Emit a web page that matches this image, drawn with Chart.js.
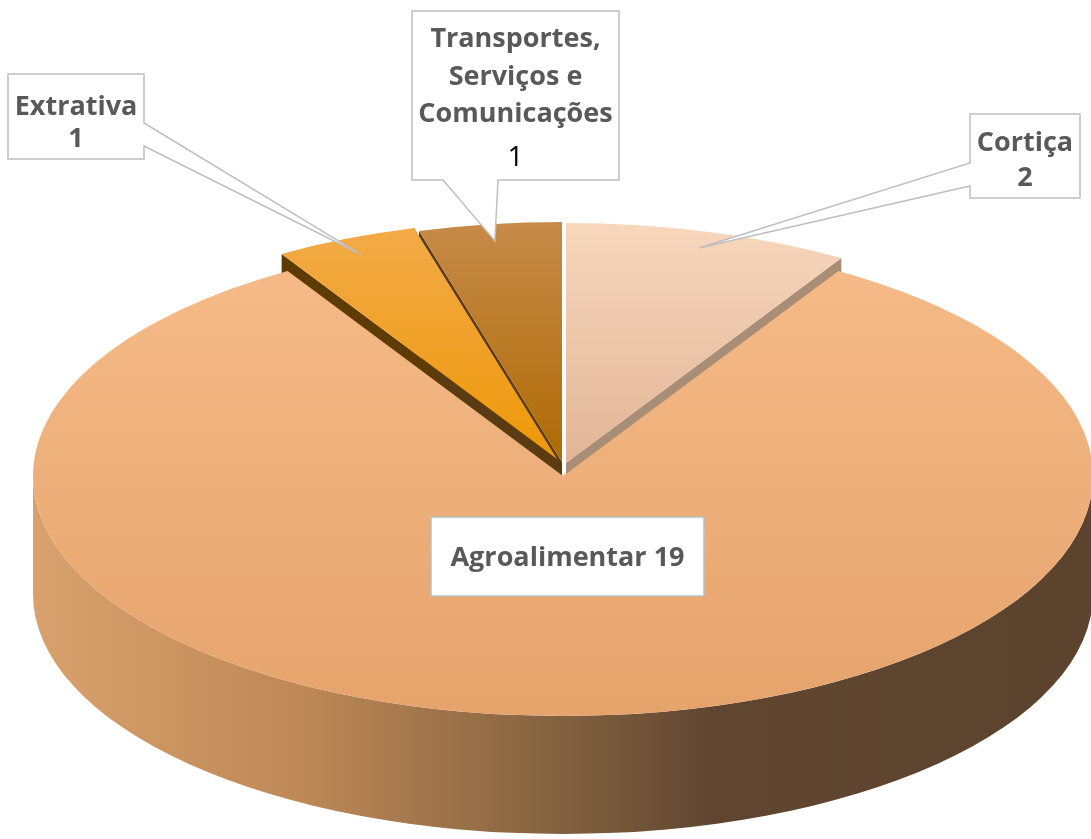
<!DOCTYPE html>
<html>
<head>
<meta charset="utf-8">
<script src="https://cdn.jsdelivr.net/npm/chart.js@4.4.1/dist/chart.umd.min.js"></script>
<style>
html,body{margin:0;padding:0;background:#ffffff;overflow:hidden;}
#wrap{width:1091px;height:839px;position:relative;}
canvas{display:block;}
</style>
</head>
<body>
<div id="wrap"><canvas id="c" width="1091" height="839"></canvas></div>
<script>
// ---- data ----
const categories = ['Cortiça', 'Agroalimentar', 'Extrativa', 'Transportes, Serviços e Comunicações'];
const values = [2, 19, 1, 1];
const labelLines = [['Cortiça'], ['Agroalimentar'], ['Extrativa'], ['Transportes,', 'Serviços e', 'Comunicações']];

// ---- styles ----
const topStops = [
  [[0, '#F8D7BC'], [0.5, '#E2B597'], [1, '#D09B7A']],
  [[0, '#F6BC89'], [1, '#E6A36C']],
  [[0, '#F3AB4A'], [0.5, '#EE9808'], [1, '#E08A00']],
  [[0, '#C68B48'], [0.5, '#B06A04'], [1, '#A05E00']]
];
const wallColors = ['#A88D77', '#8A6A4A', '#5E3B02', '#5A3B12'];
const wallGradients = [
  [[0, '#A3896F'], [1, '#A3896F']],
  [[0, '#D8A16D'], [0.25, '#BF8957'], [0.5, '#82613F'], [0.64, '#604631'], [1, '#5C432D']],
  [[0, '#5E3B02'], [1, '#5E3B02']],
  [[0, '#5A3B12'], [1, '#5A3B12']]
];

function topGradient(c) {
  const chart = c.chart;
  const area = chart.chartArea;
  const stops = topStops[c.dataIndex];
  if (!area) return stops[0][1];
  const cy = (area.top + area.bottom) / 2;
  const r = Math.min(area.right - area.left, area.bottom - area.top) / 2;
  const g = chart.ctx.createLinearGradient(0, cy - r, 0, cy + r);
  stops.forEach(([p, col]) => g.addColorStop(p, col));
  return g;
}

const pie3d = {
  id: 'pie3d',
  beforeDatasetsDraw(chart, args, opts) {
    const ctx = chart.ctx;
    const arcs = chart.getDatasetMeta(0).data;
    if (!arcs.length) return;
    const R = arcs[0].outerRadius, cx0 = arcs[0].x, cy0 = arcs[0].y;
    const sx = opts.rx / R, sy = opts.ry / R;
    const Du = opts.depth / sy;
    const shift = i => opts.explodePx[i] || [0, 0];
    const enter = i => {
      const [dx, dy] = shift(i);
      ctx.save();
      ctx.translate(opts.cx + dx, opts.cy + dy);
      ctx.scale(sx, sy);
      ctx.translate(-cx0, -cy0);
    };
    // radial walls
    arcs.forEach((el, i) => {
      enter(i);
      const X = el.x, Y = el.y;
      ctx.fillStyle = wallColors[i];
      [el.startAngle, el.endAngle].forEach(a => {
        const px = X + R * Math.cos(a), py = Y + R * Math.sin(a);
        ctx.beginPath();
        ctx.moveTo(X, Y); ctx.lineTo(px, py); ctx.lineTo(px, py + Du); ctx.lineTo(X, Y + Du);
        ctx.closePath(); ctx.fill();
      });
      ctx.restore();
    });
    // outer walls (front half only)
    arcs.forEach((el, i) => {
      enter(i);
      const X = el.x, Y = el.y;
      for (let k = -1; k <= 1; k++) {
        const lo = Math.max(el.startAngle, 2 * Math.PI * k);
        const hi = Math.min(el.endAngle, 2 * Math.PI * k + Math.PI);
        if (hi <= lo) continue;
        const g = ctx.createLinearGradient(X - R, 0, X + R, 0);
        wallGradients[i].forEach(([p, col]) => g.addColorStop(p, col));
        ctx.fillStyle = g;
        ctx.beginPath();
        ctx.arc(X, Y, R, lo, hi);
        ctx.arc(X, Y + Du, R, hi, lo, true);
        ctx.closePath();
        ctx.fill();
      }
      ctx.restore();
    });
    // top faces, drawn by the library's arc elements
    arcs.forEach((el, i) => {
      enter(i);
      el.draw(ctx);
      ctx.restore();
    });
    // anchor points in screen space
    chart.$anchors = arcs.map((el, i) => {
      const [dx, dy] = shift(i);
      const h = (el.startAngle + el.endAngle) / 2;
      return [opts.cx + dx + opts.anchorK * opts.rx * Math.cos(h),
              opts.cy + dy + opts.anchorK * opts.ry * Math.sin(h)];
    });
    return false;
  },
  afterDraw(chart, args, opts) {
    const ctx = chart.ctx;
    const anchors = chart.$anchors;
    if (!anchors) return;
    opts.callouts.forEach(co => {
      const [x, y, w, h] = co.box;
      const tip = anchors[co.i];
      ctx.save();
      ctx.beginPath();
      if (co.side === 'right') {
        ctx.moveTo(x, y); ctx.lineTo(x + w, y); ctx.lineTo(x + w, co.base[0]);
        ctx.lineTo(tip[0], tip[1]); ctx.lineTo(x + w, co.base[1]);
        ctx.lineTo(x + w, y + h); ctx.lineTo(x, y + h); ctx.closePath();
      } else if (co.side === 'left') {
        ctx.moveTo(x, y); ctx.lineTo(x + w, y); ctx.lineTo(x + w, y + h); ctx.lineTo(x, y + h);
        ctx.lineTo(x, co.base[1]); ctx.lineTo(tip[0], tip[1]); ctx.lineTo(x, co.base[0]); ctx.closePath();
      } else if (co.side === 'bottom') {
        ctx.moveTo(x, y); ctx.lineTo(x + w, y); ctx.lineTo(x + w, y + h);
        ctx.lineTo(co.base[1], y + h); ctx.lineTo(tip[0], tip[1]); ctx.lineTo(co.base[0], y + h);
        ctx.lineTo(x, y + h); ctx.closePath();
      } else {
        ctx.rect(x, y, w, h);
      }
      ctx.fillStyle = '#FFFFFF';
      ctx.fill();
      ctx.strokeStyle = '#BFBFBF';
      ctx.lineWidth = 1.5;
      ctx.stroke();
      ctx.textAlign = 'center';
      ctx.textBaseline = 'alphabetic';
      const tx = x + w / 2;
      const names = labelLines[co.i];
      const bl = co.baselines;
      ctx.fillStyle = '#595959';
      ctx.font = 'bold 27px "Open Sans", "DejaVu Sans", sans-serif';
      if (co.inline) {
        ctx.fillText(names.join(' ') + ' ' + values[co.i], tx, bl[0]);
      } else {
        names.forEach((t, k) => ctx.fillText(t, tx, bl[k]));
        if (co.plainValue) {
          ctx.fillStyle = '#000000';
          ctx.font = '28px "Open Sans", "DejaVu Sans", sans-serif';
        }
        ctx.fillText(String(values[co.i]), tx, bl[names.length]);
      }
      ctx.restore();
    });
  }
};

new Chart(document.getElementById('c'), {
  type: 'pie',
  data: {
    labels: categories,
    datasets: [{
      data: values,
      backgroundColor: topGradient,
      borderWidth: 0
    }]
  },
  options: {
    responsive: false,
    devicePixelRatio: 1,
    animation: false,
    layout: { padding: 0 },
    plugins: {
      legend: { display: false },
      tooltip: { enabled: false },
      pie3d: {
        cx: 563, cy: 476, rx: 530, ry: 240, depth: 118,
        explodePx: [[3, -13], [0, 0], [-6, -17], [-1, -14]],
        anchorK: 0.93,
        callouts: [
          { i: 0, box: [970, 114, 110, 84], side: 'left', base: [163, 186], baselines: [151, 186] },
          { i: 1, box: [431, 517, 273, 79], side: null, inline: true, baselines: [566] },
          { i: 2, box: [8, 74, 136, 85], side: 'right', base: [123, 146], baselines: [115, 147] },
          { i: 3, box: [412, 11, 207, 169], side: 'bottom', base: [443, 498], baselines: [47, 85, 122, 166], plainValue: true }
        ]
      }
    }
  },
  plugins: [pie3d]
});
</script>
</body>
</html>
